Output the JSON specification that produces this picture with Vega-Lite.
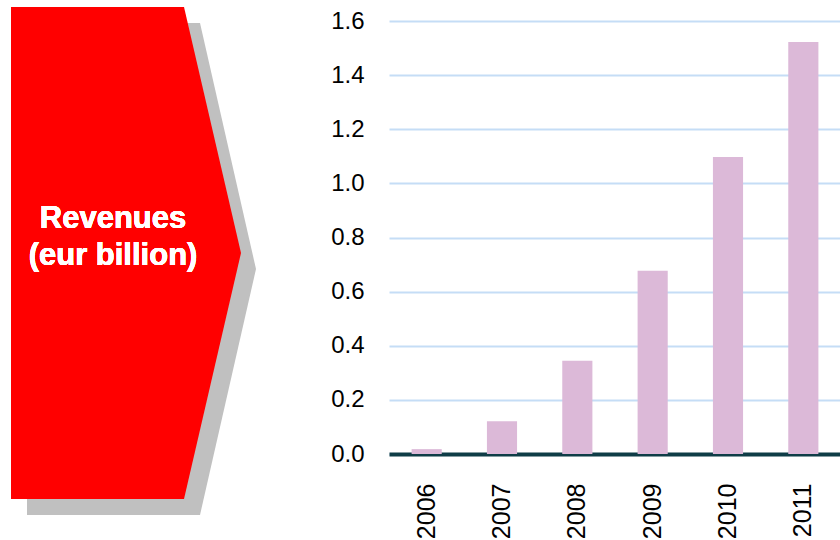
{
  "$schema": "https://vega.github.io/schema/vega-lite/v6.json",
  "background": "white",
  "padding": {"left": 0, "top": 6, "right": 0, "bottom": 0},
  "config": {"view": {"stroke": null}, "font": "Liberation Sans"},
  "bounds": "flush",
  "spacing": 129,
  "hconcat": [
    {
      "width": 260,
      "height": 433,
      "data": {"values": [
        {"part": "shadow", "px": 27, "top": 22, "bottom": 514},
        {"part": "shadow", "px": 200, "top": 22, "bottom": 514},
        {"part": "shadow", "px": 256, "top": 268, "bottom": 268},
        {"part": "main", "px": 11, "top": 6, "bottom": 498},
        {"part": "main", "px": 184, "top": 6, "bottom": 498},
        {"part": "main", "px": 241, "top": 252, "bottom": 252}
      ]},
      "encoding": {
        "x": {"field": "px", "type": "quantitative", "scale": {"domain": [0, 260], "zero": false, "nice": false}, "axis": null},
        "y": {"field": "top", "type": "quantitative", "scale": {"domain": [20, 453], "reverse": true, "zero": false, "nice": false, "clamp": false}, "axis": null}
      },
      "layer": [
        {
          "transform": [{"filter": "datum.part === 'shadow'"}],
          "mark": {"type": "area", "orient": "vertical", "color": "#c0c0c0", "opacity": 1},
          "encoding": {"y2": {"field": "bottom"}}
        },
        {
          "transform": [{"filter": "datum.part === 'main'"}],
          "mark": {"type": "area", "orient": "vertical", "color": "#ff0000", "opacity": 1},
          "encoding": {"y2": {"field": "bottom"}}
        },
        {
          "mark": {"type": "text", "color": "white", "fontSize": 31, "fontWeight": "bold", "font": "Liberation Sans", "align": "center", "baseline": "alphabetic", "lineHeight": 37},
          "encoding": {
            "x": {"datum": 113, "type": "quantitative"},
            "y": {"datum": 227, "type": "quantitative"},
            "text": {"value": ["Revenues", "(eur billion)"]}
          }
        }
      ]
    },
    {
      "width": 452,
      "height": 433,
      "data": {"values": [
        {"year": "2006", "revenue": 0.018},
        {"year": "2007", "revenue": 0.121},
        {"year": "2008", "revenue": 0.345},
        {"year": "2009", "revenue": 0.677},
        {"year": "2010", "revenue": 1.097},
        {"year": "2011", "revenue": 1.522}
      ]},
      "mark": {"type": "bar", "color": "#dcb9d8"},
      "encoding": {
        "x": {
          "field": "year", "type": "ordinal",
          "scale": {"paddingInner": 0.6, "paddingOuter": 0.3},
          "axis": {"title": null, "labelAngle": -90, "labelFontSize": 25, "labelFont": "Liberation Sans", "labelColor": "black", "ticks": false, "tickSize": 0, "labelPadding": 29, "domainColor": "#0f3d47", "domainWidth": 4, "labelAlign": "right", "labelBaseline": "middle"}
        },
        "y": {
          "field": "revenue", "type": "quantitative",
          "scale": {"domain": [0, 1.6]},
          "axis": {"title": null, "values": [0, 0.2, 0.4, 0.6, 0.8, 1.0, 1.2, 1.4, 1.6], "format": ".1f", "labelFontSize": 24, "labelFont": "Liberation Sans", "labelColor": "black", "gridColor": "#c5ddf6", "gridWidth": 2, "domain": false, "ticks": false, "tickSize": 0, "labelPadding": 25}
        }
      }
    }
  ]
}
